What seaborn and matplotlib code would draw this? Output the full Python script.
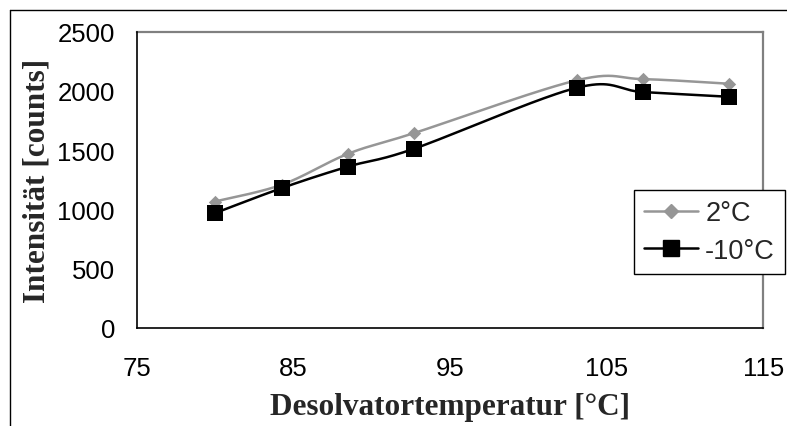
import numpy as np
import matplotlib
matplotlib.use("Agg")
import matplotlib.pyplot as plt
import seaborn as sns
from matplotlib.lines import Line2D

# Measured intensities vs. desolvation temperature
temps = [80.0, 84.3, 88.5, 92.7, 103.1, 107.3, 112.8]
intens_2c = [1067, 1210, 1470, 1644, 2090, 2100, 2061]
intens_m10c = [969, 1182, 1362, 1512, 2027, 1991, 1951]
series_labels = ["2°C", "-10°C"]
x_ticks = [75, 85, 95, 105, 115]
y_ticks = [0, 500, 1000, 1500, 2000, 2500]

GRAY = "#969696"
BLACK = "#000000"


def smooth(x, y, n=40):
    """Smoothed line through the points (cubic Bezier, Catmull-Rom tangents)."""
    pts = np.column_stack([x, y]).astype(float)
    ext = np.vstack([pts[0], pts, pts[-1]])
    t = np.linspace(0, 1, n)[:, None]
    out = []
    for i in range(1, len(ext) - 2):
        p0, p1, p2, p3 = ext[i - 1], ext[i], ext[i + 1], ext[i + 2]
        c1 = p1 + (p2 - p0) / 6
        c2 = p2 - (p3 - p1) / 6
        seg = ((1 - t) ** 3) * p1 + 3 * ((1 - t) ** 2) * t * c1 \
            + 3 * (1 - t) * t ** 2 * c2 + t ** 3 * p2
        out.append(seg if i == 1 else seg[1:])
    arr = np.vstack(out)
    return arr[:, 0], arr[:, 1]


sns.set_style("white")
plt.rcParams["font.family"] = ["Liberation Sans", "DejaVu Sans"]

W, H = 787, 427
fig = plt.figure(figsize=(W / 100, H / 100), dpi=100)
L, R, T, B = 136.5, 763.3, 32.7, 329.0
ax = fig.add_axes([L / W, 1 - B / H, (R - L) / W, (B - T) / H])

series = [
    (intens_2c, GRAY, "D", 6.8),
    (intens_m10c, BLACK, "s", 11.0),
]
for vals, col, mk, ms in series:
    sx, sy = smooth(temps, vals)
    sns.lineplot(x=sx, y=sy, sort=False, estimator=None, color=col,
                 linewidth=1.8, ax=ax, legend=False)
    sns.scatterplot(x=temps, y=vals, marker=mk, s=ms ** 2, color=col,
                    edgecolor=col, linewidth=0, ax=ax, legend=False, zorder=5)

ax.set_xlim(75, 115)
ax.set_ylim(0, 2500)
ax.set_xticks(x_ticks)
ax.set_yticks(y_ticks)
ax.tick_params(axis="both", direction="out", length=5, width=1.0,
               color=BLACK, labelsize=18.5, labelcolor=BLACK)
ax.tick_params(axis="y", pad=10.5)
ax.tick_params(axis="x", pad=15)

for side in ("top", "right"):
    ax.spines[side].set_color("#808080")
    ax.spines[side].set_linewidth(1.6)
for side in ("left", "bottom"):
    ax.spines[side].set_color(BLACK)
    ax.spines[side].set_linewidth(1.2)
    ax.spines[side].set_zorder(6)

label_font = dict(family=["Liberation Serif", "DejaVu Serif"],
                  weight="bold", size=22.5)
ax.set_xlabel("Desolvatortemperatur [°C]", fontdict=label_font)
ax.set_ylabel("Intensität [counts]", fontdict=label_font)
ax.xaxis.set_label_coords(0.5, -0.216)
ax.yaxis.set_label_coords(-0.136, 0.5)

handles = [
    Line2D([], [], color=GRAY, lw=1.8, marker="D", ms=6.8,
           mfc=GRAY, mec=GRAY),
    Line2D([], [], color=BLACK, lw=1.8, marker="s", ms=11,
           mfc=BLACK, mec=BLACK),
]
leg = fig.legend(handles, series_labels, loc="upper left",
                 bbox_to_anchor=(634 / W, 1 - 191 / H),
                 bbox_transform=fig.transFigure, borderaxespad=0,
                 frameon=True, fancybox=False, framealpha=1,
                 edgecolor=BLACK, fontsize=19.5, handlelength=2.0,
                 handletextpad=0.25, borderpad=0.38, labelspacing=0.42)
leg.get_frame().set_linewidth(1.0)

# Outer chart frame (left and top edges)
fx, fy = 9.5 / W, 1 - 10.5 / H
fig.add_artist(Line2D([fx, fx], [0, fy], transform=fig.transFigure,
                      color=BLACK, lw=1.0))
fig.add_artist(Line2D([fx, 1], [fy, fy], transform=fig.transFigure,
                      color=BLACK, lw=1.0))

fig.savefig("out.png", dpi=100, facecolor="white")
